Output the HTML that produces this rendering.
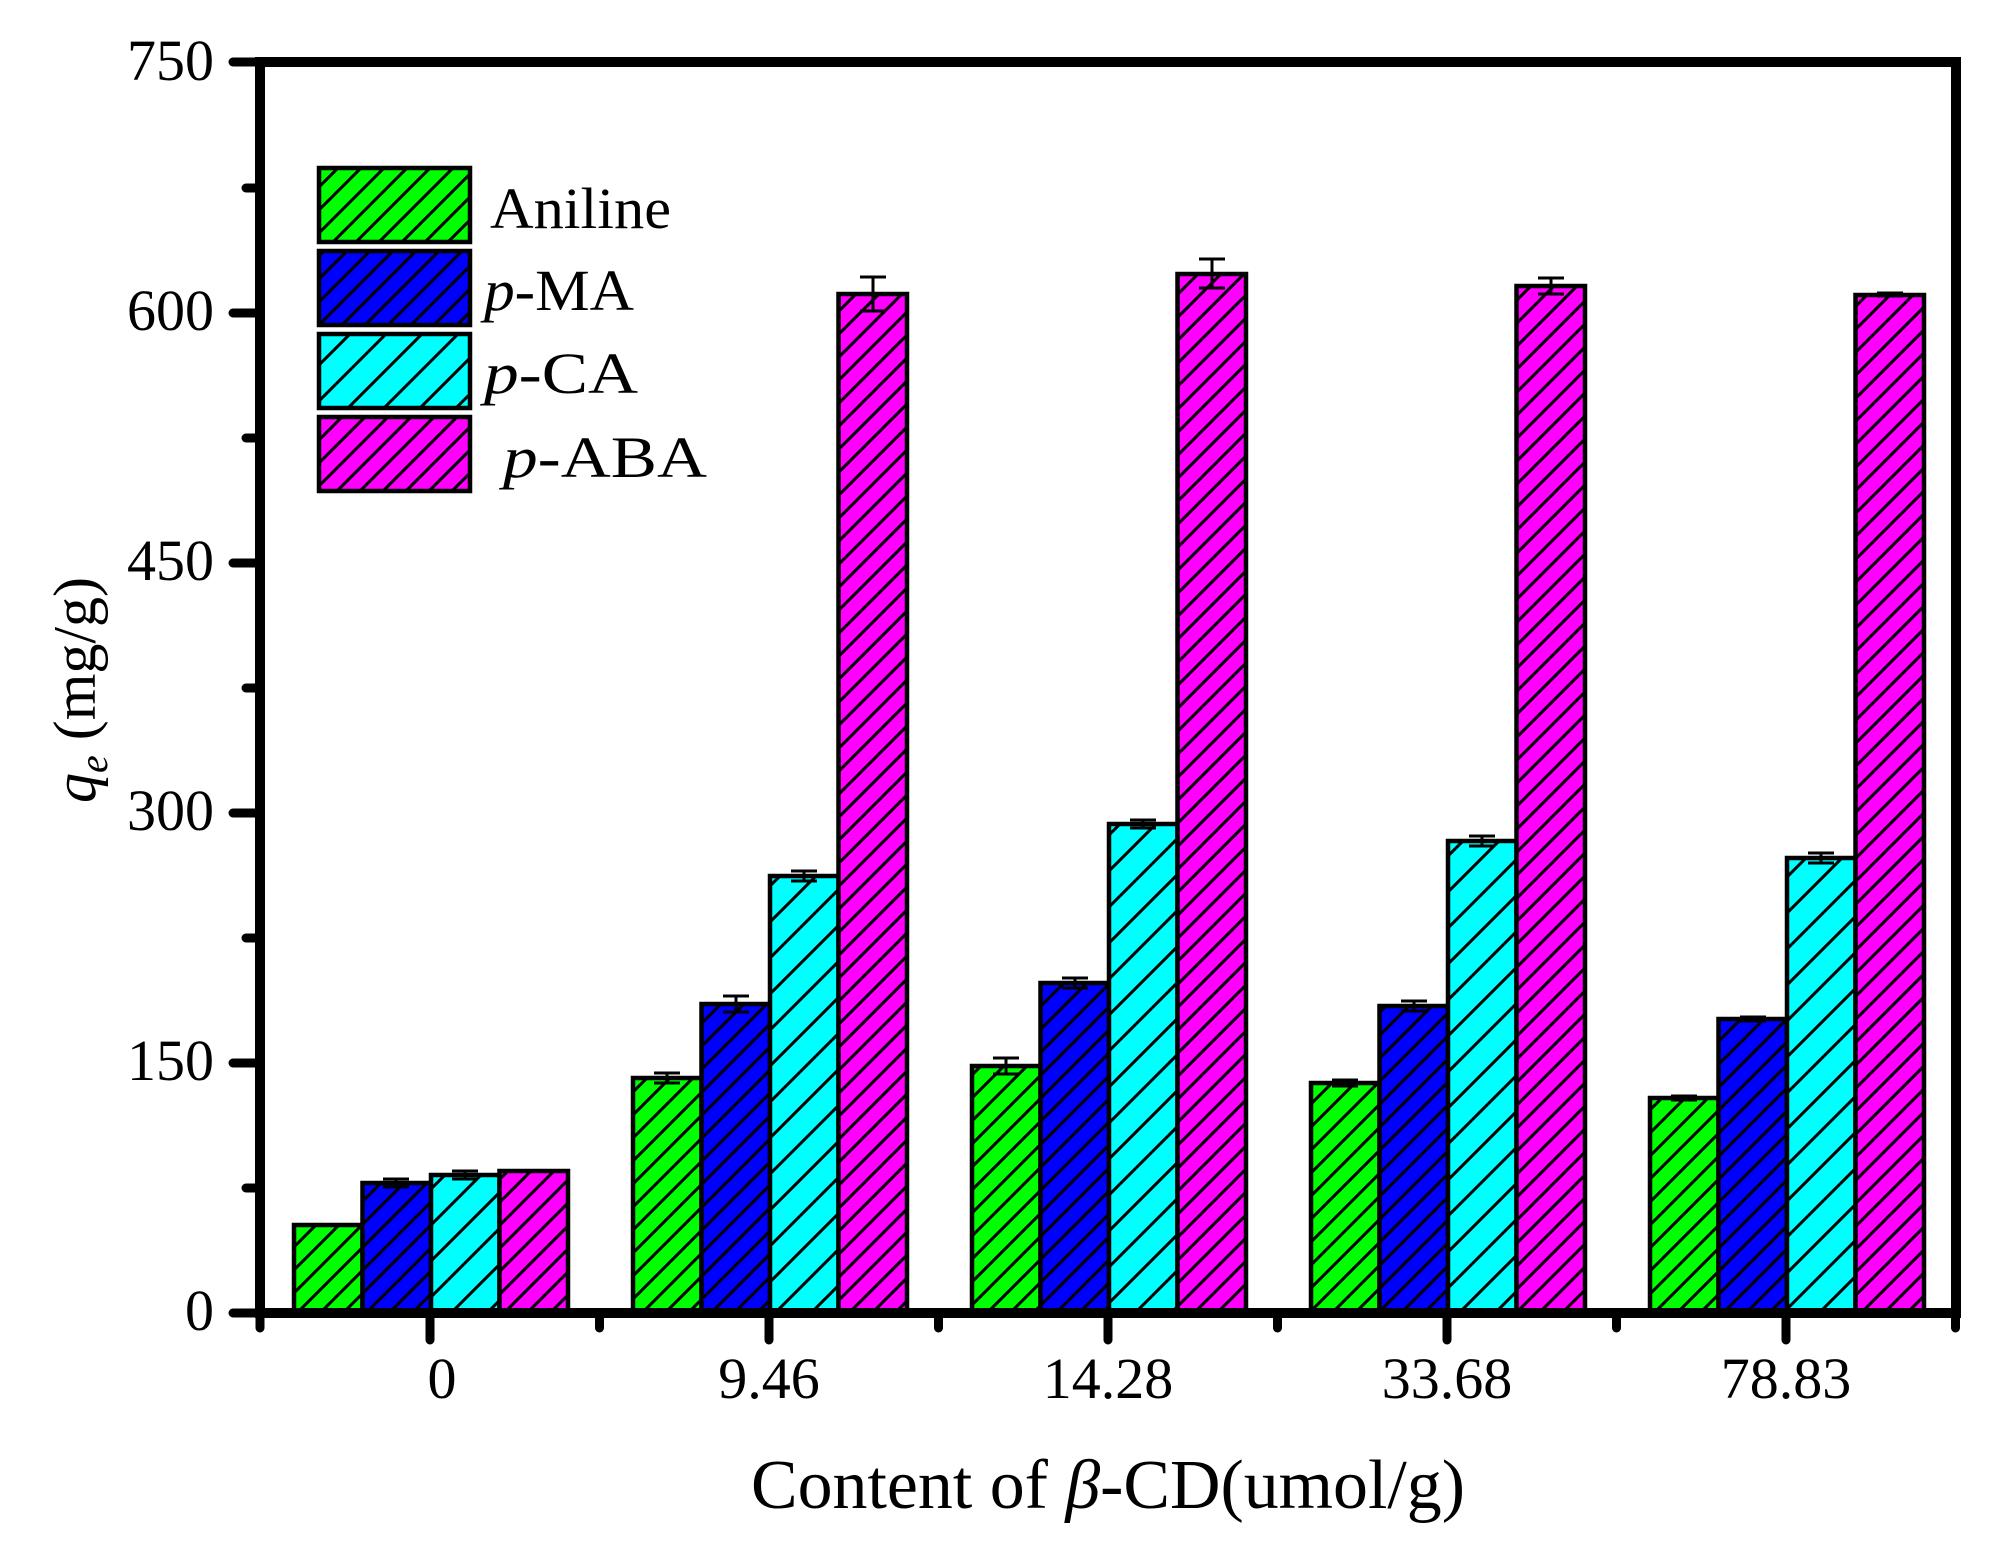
<!DOCTYPE html>
<html><head><meta charset="utf-8"><style>html,body{margin:0;padding:0;background:#fff}svg{display:block}</style></head>
<body>
<svg xmlns="http://www.w3.org/2000/svg" width="2015" height="1550" viewBox="0 0 2015 1550" font-family="'Liberation Serif', serif">
<defs>
<pattern id="hg" patternUnits="userSpaceOnUse" width="23" height="23"><rect width="23" height="23" fill="#00ff00"/><path d="M-2,25 L25,-2 M-2,2 L2,-2 M21,25 L25,21" stroke="#000" stroke-width="3"/></pattern>
<pattern id="hb" patternUnits="userSpaceOnUse" width="23" height="23"><rect width="23" height="23" fill="#0000ff"/><path d="M-2,25 L25,-2 M-2,2 L2,-2 M21,25 L25,21" stroke="#000" stroke-width="3"/></pattern>
<pattern id="hc" patternUnits="userSpaceOnUse" width="36" height="36"><rect width="36" height="36" fill="#00ffff"/><path d="M-2,38 L38,-2 M-2,2 L2,-2 M34,38 L38,34" stroke="#000" stroke-width="3"/></pattern>
<pattern id="hm" patternUnits="userSpaceOnUse" width="23" height="23"><rect width="23" height="23" fill="#ff00ff"/><path d="M-2,25 L25,-2 M-2,2 L2,-2 M21,25 L25,21" stroke="#000" stroke-width="3"/></pattern>
</defs>
<g stroke="#000" stroke-width="4.5">
<rect x="294" y="1225" width="68.5" height="88" fill="url(#hg)"/>
<rect x="362.5" y="1183" width="68.5" height="130" fill="url(#hb)"/>
<rect x="431" y="1175" width="68.5" height="138" fill="url(#hc)"/>
<rect x="499.5" y="1171" width="68.5" height="142" fill="url(#hm)"/>
<rect x="633" y="1078" width="68.5" height="235" fill="url(#hg)"/>
<rect x="701.5" y="1004" width="68.5" height="309" fill="url(#hb)"/>
<rect x="770" y="876" width="68.5" height="437" fill="url(#hc)"/>
<rect x="838.5" y="294" width="68.5" height="1019" fill="url(#hm)"/>
<rect x="972" y="1066" width="68.5" height="247" fill="url(#hg)"/>
<rect x="1040.5" y="983" width="68.5" height="330" fill="url(#hb)"/>
<rect x="1109" y="824" width="68.5" height="489" fill="url(#hc)"/>
<rect x="1177.5" y="274" width="68.5" height="1039" fill="url(#hm)"/>
<rect x="1311" y="1083" width="68.5" height="230" fill="url(#hg)"/>
<rect x="1379.5" y="1006" width="68.5" height="307" fill="url(#hb)"/>
<rect x="1448" y="841" width="68.5" height="472" fill="url(#hc)"/>
<rect x="1516.5" y="286" width="68.5" height="1027" fill="url(#hm)"/>
<rect x="1650" y="1098" width="68.5" height="215" fill="url(#hg)"/>
<rect x="1718.5" y="1019" width="68.5" height="294" fill="url(#hb)"/>
<rect x="1787" y="858" width="68.5" height="455" fill="url(#hc)"/>
<rect x="1855.5" y="295" width="68.5" height="1018" fill="url(#hm)"/>
</g>
<g stroke="#000" stroke-width="3" fill="none">
<path d="M396,1179v8m-13,-8h26m-26,8h26"/>
<path d="M465,1171v8m-13,-8h26m-26,8h26"/>
<path d="M667,1073v10m-13,-10h26m-26,10h26"/>
<path d="M736,996v16m-13,-16h26m-26,16h26"/>
<path d="M804,871v10m-13,-10h26m-26,10h26"/>
<path d="M873,277v34m-13,-34h26m-26,34h26"/>
<path d="M1006,1058v16m-13,-16h26m-26,16h26"/>
<path d="M1075,978v10m-13,-10h26m-26,10h26"/>
<path d="M1143,820v8m-13,-8h26m-26,8h26"/>
<path d="M1212,259v29m-13,-29h26m-26,29h26"/>
<path d="M1345,1080v6m-13,-6h26m-26,6h26"/>
<path d="M1414,1001v10m-13,-10h26m-26,10h26"/>
<path d="M1482,836v10m-13,-10h26m-26,10h26"/>
<path d="M1551,278v16m-13,-16h26m-26,16h26"/>
<path d="M1684,1096v4m-13,-4h26m-26,4h26"/>
<path d="M1753,1017v4m-13,-4h26m-26,4h26"/>
<path d="M1821,853v10m-13,-10h26m-26,10h26"/>
<path d="M1890,293v3m-13,-3h26m-26,3h26"/>
</g>
<rect x="260" y="62" width="1696" height="1251" fill="none" stroke="#000" stroke-width="10"/>
<g stroke="#000" stroke-width="9" stroke-linecap="round">
<path d="M233,1313h27M233,1063h27M233,813h27M233,563h27M233,313h27M233,62h27"/>
<path d="M246,1188h14M246,938h14M246,688h14M246,438h14M246,188h14"/>
<path d="M430,1313v27M769,1313v27M1108,1313v27M1447,1313v27M1786,1313v27"/>
<path d="M260,1313v15M599.5,1313v15M938.5,1313v15M1277.5,1313v15M1616.5,1313v15M1955.5,1313v15"/>
</g>
<g font-size="58" text-anchor="end" fill="#000">
<text x="214" y="1330">0</text>
<text x="214" y="1080">150</text>
<text x="214" y="830">300</text>
<text x="214" y="580">450</text>
<text x="214" y="330">600</text>
<text x="214" y="80">750</text>
</g>
<g font-size="58" text-anchor="middle" fill="#000">
<text x="442" y="1398">0</text>
<text x="769" y="1398">9.46</text>
<text x="1108" y="1398">14.28</text>
<text x="1447" y="1398">33.68</text>
<text x="1786" y="1398">78.83</text>
</g>
<text x="1108" y="1508" font-size="70" text-anchor="middle" textLength="714" lengthAdjust="spacingAndGlyphs">Content of <tspan font-style="italic">β</tspan>-CD(umol/g)</text>
<text transform="translate(95,690) rotate(-90)" font-size="60" text-anchor="middle"><tspan font-style="italic">q</tspan><tspan font-style="italic" font-size="40" dy="12">e</tspan><tspan dy="-12"> (mg/g)</tspan></text>
<g stroke="#000" stroke-width="4.5">
<rect x="319" y="168" width="151" height="74" fill="url(#hg)"/>
<rect x="319" y="251" width="151" height="74" fill="url(#hb)"/>
<rect x="319" y="334" width="151" height="74" fill="url(#hc)"/>
<rect x="319" y="417" width="151" height="74" fill="url(#hm)"/>
</g>
<g font-size="58" fill="#000">
<text x="490" y="228" textLength="181" lengthAdjust="spacingAndGlyphs">Aniline</text>
<text x="484" y="310" textLength="150" lengthAdjust="spacingAndGlyphs"><tspan font-style="italic">p</tspan>-MA</text>
<text x="484" y="393" textLength="154" lengthAdjust="spacingAndGlyphs"><tspan font-style="italic">p</tspan>-CA</text>
<text x="503" y="477" textLength="204" lengthAdjust="spacingAndGlyphs"><tspan font-style="italic">p</tspan>-ABA</text>
</g>
</svg>
</body></html>
